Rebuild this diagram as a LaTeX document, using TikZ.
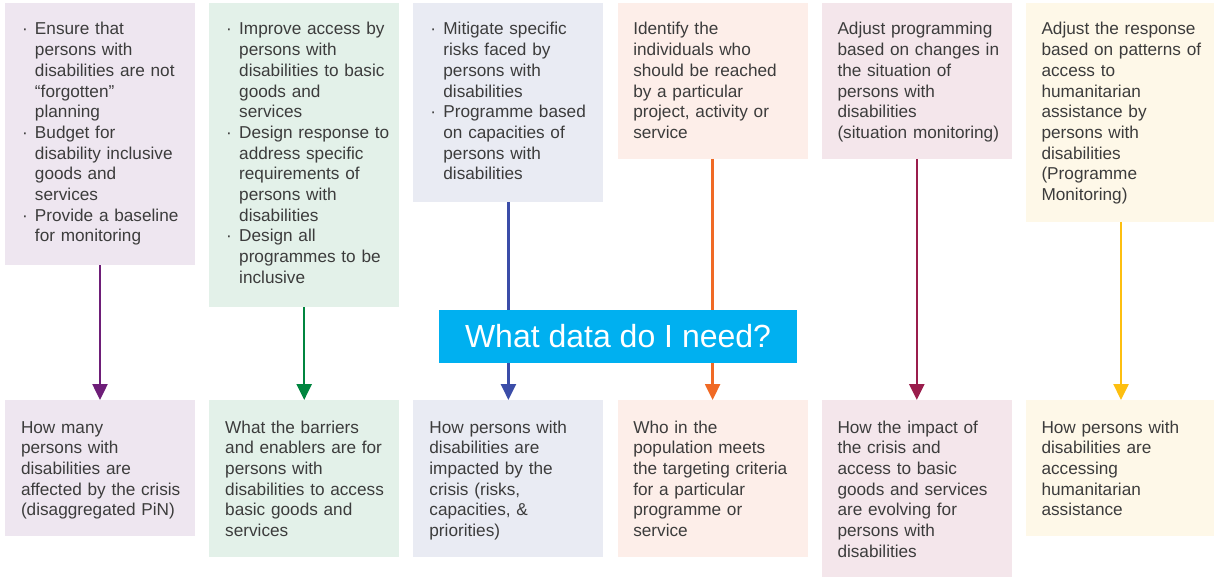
\documentclass[tikz,border=0pt]{standalone}
\usepackage{fontspec}
\setmainfont{Liberation Sans}
\usetikzlibrary{arrows.meta}
\definecolor{txtc}{HTML}{3C3C3C}
\definecolor{f1}{HTML}{EEE6F0}
\definecolor{f2}{HTML}{E3F1E9}
\definecolor{f3}{HTML}{E9EBF3}
\definecolor{f4}{HTML}{FDEEE9}
\definecolor{f5}{HTML}{F4E6EB}
\definecolor{f6}{HTML}{FEF8E8}
\definecolor{a1}{HTML}{6E1E78}
\definecolor{a2}{HTML}{00853F}
\definecolor{a3}{HTML}{3B4DA8}
\definecolor{a4}{HTML}{F06A25}
\definecolor{a5}{HTML}{9A1D4C}
\definecolor{a6}{HTML}{FDBF10}
\definecolor{qblue}{HTML}{00B0F0}
\newcommand\bl{\makebox[13pt][l]{·}}
\newcommand\ind{\hspace*{13pt}}
\tikzset{
  box/.style={rectangle, inner sep=0pt, outer sep=0pt, minimum width=190pt, anchor=north west},
  txt/.style={anchor=base west, inner sep=0pt, outer sep=0pt, text width=250pt, align=left, text=txtc, font=\fontsize{17.2}{20.7}\selectfont},
  arr/.style={line width=2.5pt, -{Triangle[length=16pt,width=15pt]}},
  qbox/.style={rectangle, fill=qblue, text=white, minimum width=358pt, minimum height=53pt, inner sep=0pt, font=\fontsize{32}{38}\selectfont}
}
\begin{document}
\begin{tikzpicture}[x=1pt,y=-1pt]
\useasboundingbox (0,0) rectangle (1214,577);
% top boxes
\node[box, fill=f1, minimum height=262pt] (t1) at (5,3) {};
\node[box, fill=f2, minimum height=304pt] (t2) at (209.2,3) {};
\node[box, fill=f3, minimum height=199pt] (t3) at (413.4,3) {};
\node[box, fill=f4, minimum height=156pt] (t4) at (617.6,3) {};
\node[box, fill=f5, minimum height=156pt] (t5) at (821.8,3) {};
\node[box, fill=f6, minimum height=219pt] (t6) at (1026,3) {};
% bottom boxes
\node[box, fill=f1, minimum height=136pt] (b1) at (5,400) {};
\node[box, fill=f2, minimum height=157pt] (b2) at (209.2,400) {};
\node[box, fill=f3, minimum height=157pt] (b3) at (413.4,400) {};
\node[box, fill=f4, minimum height=157pt] (b4) at (617.6,400) {};
\node[box, fill=f5, minimum height=177pt] (b5) at (821.8,400) {};
\node[box, fill=f6, minimum height=136pt] (b6) at (1026,400) {};
% top texts
\node[txt] (t1txt) at (22,35) {\bl Ensure that\\\ind persons with\\\ind disabilities are not\\\ind “forgotten”\\\ind planning\\\bl Budget for\\\ind disability inclusive\\\ind goods and\\\ind services\\\bl Provide a baseline\\\ind for monitoring};
\node[txt] (t2txt) at (226.2,35) {\bl Improve access by\\\ind persons with\\\ind disabilities to basic\\\ind goods and\\\ind services\\\bl Design response to\\\ind address specific\\\ind requirements of\\\ind persons with\\\ind disabilities\\\bl Design all\\\ind programmes to be\\\ind inclusive};
\node[txt] (t3txt) at (430.4,35) {\bl Mitigate specific\\\ind risks faced by\\\ind persons with\\\ind disabilities\\\bl Programme based\\\ind on capacities of\\\ind persons with\\\ind disabilities};
\node[txt] (t4txt) at (633.3,35) {Identify the\\individuals who\\should be reached\\by a particular\\project, activity or\\service};
\node[txt] (t5txt) at (837.5,35) {Adjust programming\\based on changes in\\the situation of\\persons with\\disabilities\\(situation monitoring)};
\node[txt] (t6txt) at (1041.5,35) {Adjust the response\\based on patterns of\\access to\\humanitarian\\assistance by\\persons with\\disabilities\\(Programme\\Monitoring)};
% bottom texts
\node[txt] (b1txt) at (21,433) {How many\\persons with\\disabilities are\\affected by the crisis\\(disaggregated PiN)};
\node[txt] (b2txt) at (225.2,433) {What the barriers\\and enablers are for\\persons with\\disabilities to access\\basic goods and\\services};
\node[txt] (b3txt) at (429.4,433) {How persons with\\disabilities are\\impacted by the\\crisis (risks,\\capacities, \&\\priorities)};
\node[txt] (b4txt) at (633.3,433) {Who in the\\population meets\\the targeting criteria\\for a particular\\programme or\\service};
\node[txt] (b5txt) at (837.5,433) {How the impact of\\the crisis and\\access to basic\\goods and services\\are evolving for\\persons with\\disabilities};
\node[txt] (b6txt) at (1041.5,433) {How persons with\\disabilities are\\accessing\\humanitarian\\assistance};
% arrows
\draw[arr, a1] (t1.south) -- (b1.north);
\draw[arr, a2] (t2.south) -- (b2.north);
\draw[arr, a3] (t3.south) -- (b3.north);
\draw[arr, a4] (t4.south) -- (b4.north);
\draw[arr, a5] (t5.south) -- (b5.north);
\draw[arr, a6] (t6.south) -- (b6.north);
% central label
\node[qbox] (q) at (618,336.5) {What data do I need?};
\end{tikzpicture}
\end{document}
